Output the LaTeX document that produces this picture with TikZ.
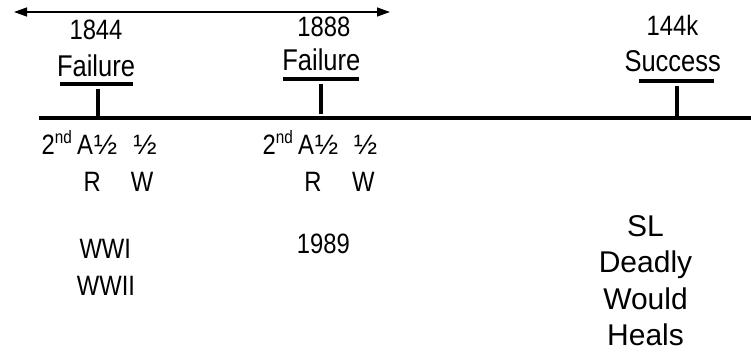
\documentclass[tikz,border=0pt]{standalone}
\usepackage{fontspec}
\setmainfont{Liberation Sans}
\newfontfamily\narrowfont{Liberation Sans}[FakeStretch=0.85]
\usetikzlibrary{arrows.meta}
\newcommand\ndsup{\raisebox{11pt}{\fontsize{18}{18}\selectfont nd}}
\begin{document}
\begin{tikzpicture}[x=1pt,y=-1pt,
  lbl/.style={inner sep=0pt, anchor=base, font=\narrowfont\fontsize{28}{30}\selectfont},
  biglbl/.style={lbl, font=\narrowfont\fontsize{30}{32}\selectfont},
  halflbl/.style={inner sep=0pt, anchor=base, font=\fontsize{28}{30}\selectfont},
  wide/.style={inner sep=0pt, anchor=base, font=\fontsize{30}{32}\selectfont},
  thick4/.style={line width=4pt},
  spanarrow/.style={line width=1.3pt, {Triangle[length=13pt,width=9pt]}-{Triangle[length=13pt,width=9pt]}}]
\useasboundingbox (0,0) rectangle (751,359);

% top double arrow
\coordinate (arrL) at (14,12);
\coordinate (arrR) at (390,12);
\draw[spanarrow] (arrL) -- (arrR);

% main time line
\coordinate (lineL) at (39,117.5);
\coordinate (lineR) at (752,117.5);
\draw[thick4] (lineL) -- (lineR);

% 1844
\node[lbl] (y1844) at (96,39.3) {1844};
\node[biglbl] (f1844) at (96,76) {Failure};
\coordinate (b1844L) at (60,84);
\coordinate (b1844R) at (133,84);
\draw[thick4] (b1844L) -- (b1844R);
\coordinate (t1844a) at (98,89);
\coordinate (t1844b) at (98,117);
\draw[thick4] (t1844a) -- (t1844b);

% 1888
\node[lbl] (y1888) at (323.8,36) {1888};
\node[biglbl] (f1888) at (321.3,70.7) {Failure};
\coordinate (b1888L) at (283.3,79);
\coordinate (b1888R) at (359.3,79);
\draw[thick4] (b1888L) -- (b1888R);
\coordinate (t1888a) at (321,83.5);
\coordinate (t1888b) at (321,114);
\draw[thick4] (t1888a) -- (t1888b);

% 144k
\node[lbl] (y144k) at (672.5,35) {144k};
\node[biglbl] (s144k) at (672.7,71.7) {Success};
\coordinate (b144L) at (639.3,81.3);
\coordinate (b144R) at (714.3,81.3);
\draw[thick4] (b144L) -- (b144R);
\coordinate (t144a) at (677,86);
\coordinate (t144b) at (677,117);
\draw[thick4] (t144a) -- (t144b);

% group 1 below 1844
\node[lbl, anchor=base west] (nd1) at (41.5,154.3) {2\ndsup};
\node[lbl] (a1) at (85,154.3) {A};
\node[halflbl] (h1a) at (105.5,154.3) {½};
\node[halflbl] (h1b) at (145,154.3) {½};
\node[lbl] (r1) at (92.2,191.7) {R};
\node[lbl] (w1) at (142,191.7) {W};
\node[lbl] (wwi) at (105.3,258.3) {WWI};
\node[lbl] (wwii) at (106,295) {WWII};

% group 2 below 1888
\node[lbl, anchor=base west] (nd2) at (262.5,154.3) {2\ndsup};
\node[lbl] (a2) at (306,154.3) {A};
\node[halflbl] (h2a) at (326.5,154.3) {½};
\node[halflbl] (h2b) at (365.5,154.3) {½};
\node[lbl] (r2) at (313,191.7) {R};
\node[lbl] (w2) at (363.4,191.7) {W};
\node[lbl] (y1989) at (323.3,253.3) {1989};

% group 3 below 144k
\node[wide] (sl) at (645.5,236) {SL};
\node[wide] (deadly) at (645.5,272.5) {Deadly};
\node[wide] (would) at (645.5,309) {Would};
\node[wide] (heals) at (645.5,345) {Heals};
\end{tikzpicture}
\end{document}
